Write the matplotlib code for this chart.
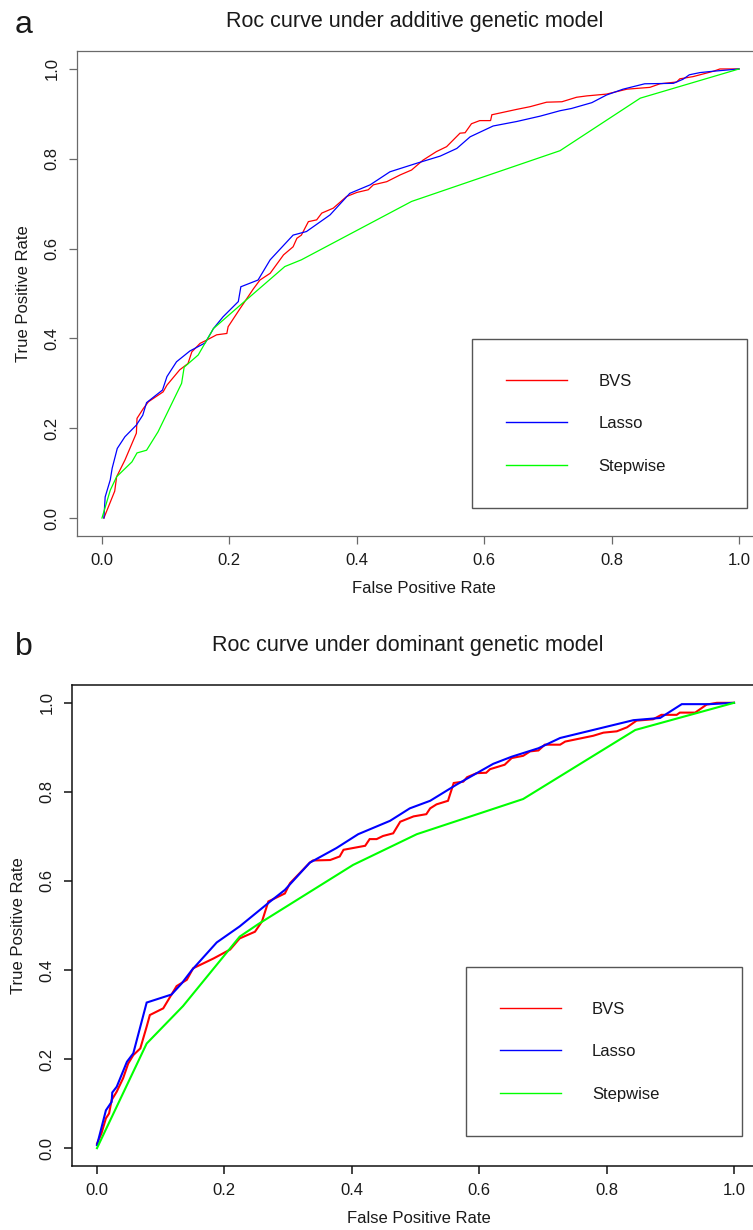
import matplotlib
matplotlib.use("Agg")
import matplotlib.pyplot as plt

plt.rcParams['font.family'] = ['Liberation Sans', 'DejaVu Sans']

W, H = 753, 1230

# ---- panel a: additive model ----
a_bvs_fpr = [0.003, 0.020, 0.023, 0.036, 0.054, 0.055, 0.065, 0.073, 0.096, 0.102,
             0.122, 0.135, 0.141, 0.154, 0.164, 0.180, 0.196, 0.198, 0.217, 0.238,
             0.248, 0.264, 0.285, 0.300, 0.306, 0.313, 0.324, 0.337, 0.345, 0.363,
             0.384, 0.400, 0.418, 0.426, 0.447, 0.468, 0.486, 0.504, 0.525, 0.541,
             0.562, 0.570, 0.580, 0.593, 0.610, 0.612, 0.651, 0.672, 0.698, 0.722,
             0.745, 0.761, 0.792, 0.824, 0.860, 0.876, 0.902, 0.907, 0.928, 0.960,
             0.970, 1.000]
a_bvs_tpr = [0.000, 0.060, 0.092, 0.129, 0.189, 0.222, 0.244, 0.259, 0.281, 0.296,
             0.330, 0.344, 0.370, 0.389, 0.396, 0.408, 0.411, 0.426, 0.467, 0.511,
             0.530, 0.545, 0.586, 0.604, 0.623, 0.630, 0.660, 0.664, 0.679, 0.690,
             0.716, 0.725, 0.731, 0.742, 0.749, 0.764, 0.775, 0.797, 0.816, 0.827,
             0.857, 0.858, 0.878, 0.885, 0.885, 0.898, 0.910, 0.916, 0.926, 0.927,
             0.937, 0.940, 0.944, 0.955, 0.959, 0.967, 0.971, 0.978, 0.983, 0.995,
             1.000, 1.000]

a_lasso_fpr = [0.003, 0.005, 0.013, 0.016, 0.024, 0.036, 0.054, 0.064, 0.070, 0.095,
               0.102, 0.117, 0.138, 0.162, 0.175, 0.190, 0.214, 0.218, 0.245, 0.264,
               0.300, 0.321, 0.358, 0.389, 0.421, 0.452, 0.494, 0.531, 0.557, 0.578,
               0.614, 0.651, 0.688, 0.719, 0.737, 0.769, 0.792, 0.818, 0.852, 0.897,
               0.912, 0.922, 0.939, 0.960, 1.000]
a_lasso_tpr = [0.000, 0.047, 0.085, 0.111, 0.155, 0.181, 0.207, 0.229, 0.257, 0.285,
               0.315, 0.348, 0.372, 0.390, 0.422, 0.448, 0.482, 0.515, 0.530, 0.575,
               0.630, 0.638, 0.675, 0.723, 0.742, 0.771, 0.790, 0.806, 0.823, 0.849,
               0.873, 0.883, 0.895, 0.907, 0.912, 0.925, 0.942, 0.955, 0.967, 0.968,
               0.977, 0.987, 0.992, 0.995, 1.000]

a_step_fpr = [0.000, 0.013, 0.023, 0.047, 0.055, 0.070, 0.088, 0.125, 0.129, 0.151,
              0.175, 0.217, 0.287, 0.313, 0.486, 0.719, 0.845, 1.000]
a_step_tpr = [0.000, 0.062, 0.092, 0.125, 0.145, 0.151, 0.192, 0.300, 0.336, 0.363,
              0.422, 0.474, 0.560, 0.575, 0.705, 0.818, 0.935, 1.000]

# ---- panel b: dominant model ----
b_bvs_fpr = [0.000, 0.007, 0.014, 0.019, 0.023, 0.031, 0.041, 0.049, 0.057, 0.068,
             0.078, 0.083, 0.104, 0.125, 0.141, 0.151, 0.183, 0.209, 0.224, 0.248,
             0.259, 0.269, 0.285, 0.295, 0.303, 0.334, 0.339, 0.366, 0.381, 0.387,
             0.421, 0.428, 0.439, 0.449, 0.465, 0.476, 0.497, 0.517, 0.523, 0.533,
             0.551, 0.560, 0.575, 0.581, 0.596, 0.611, 0.617, 0.640, 0.651, 0.669,
             0.680, 0.693, 0.703, 0.727, 0.735, 0.779, 0.795, 0.816, 0.832, 0.847,
             0.873, 0.886, 0.910, 0.915, 0.939, 0.957, 0.973, 1.000]
b_bvs_tpr = [0.010, 0.033, 0.067, 0.078, 0.108, 0.127, 0.157, 0.190, 0.209, 0.224,
             0.273, 0.299, 0.314, 0.364, 0.378, 0.404, 0.426, 0.446, 0.471, 0.486,
             0.509, 0.554, 0.565, 0.572, 0.595, 0.641, 0.646, 0.647, 0.655, 0.670,
             0.679, 0.694, 0.694, 0.701, 0.707, 0.733, 0.745, 0.750, 0.763, 0.772,
             0.780, 0.820, 0.823, 0.833, 0.842, 0.843, 0.851, 0.861, 0.876, 0.881,
             0.891, 0.893, 0.906, 0.906, 0.913, 0.926, 0.933, 0.936, 0.945, 0.960,
             0.963, 0.973, 0.973, 0.978, 0.978, 0.996, 1.000, 1.000]

b_lasso_fpr = [0.000, 0.004, 0.014, 0.023, 0.024, 0.031, 0.047, 0.057, 0.078, 0.117,
               0.133, 0.149, 0.188, 0.224, 0.272, 0.295, 0.334, 0.376, 0.410, 0.460,
               0.491, 0.523, 0.564, 0.601, 0.622, 0.651, 0.693, 0.727, 0.842, 0.884,
               0.918, 0.962, 1.000]
b_lasso_tpr = [0.007, 0.029, 0.085, 0.104, 0.125, 0.138, 0.194, 0.213, 0.327, 0.345,
               0.370, 0.400, 0.462, 0.498, 0.554, 0.580, 0.641, 0.674, 0.705, 0.735,
               0.763, 0.780, 0.816, 0.846, 0.863, 0.879, 0.898, 0.921, 0.961, 0.966,
               0.997, 0.997, 1.000]

b_step_fpr = [0.000, 0.078, 0.135, 0.224, 0.253, 0.402, 0.502, 0.669, 0.845, 1.000]
b_step_tpr = [0.000, 0.235, 0.319, 0.475, 0.503, 0.636, 0.705, 0.784, 0.939, 1.000]

methods = ['BVS', 'Lasso', 'Stepwise']
colors = ['#ff0000', '#0000ff', '#00ff00']
ticks = [0.0, 0.2, 0.4, 0.6, 0.8, 1.0]
tick_labels = ['0.0', '0.2', '0.4', '0.6', '0.8', '1.0']

fig = plt.figure(figsize=(W / 100, H / 100), dpi=100)


def px_box(left, top, right, bottom):
    return [left / W, 1 - bottom / H, (right - left) / W, (bottom - top) / H]


def draw_panel(ax, curves, lw, spine_col, spine_lw, leg_box):
    for (fpr, tpr), col, name in zip(curves, colors, methods):
        ax.plot(fpr, tpr, color=col, lw=lw, label=name, solid_joinstyle='miter')
    ax.set_xlim(-0.04, 1.04)
    ax.set_ylim(-0.04, 1.04)
    ax.set_xticks(ticks, tick_labels)
    ax.set_yticks(ticks, tick_labels)
    ax.tick_params(axis='both', labelsize=12, length=5.5, width=spine_lw,
                   color=spine_col, labelcolor='#1a1a1a', pad=6.5)
    ax.tick_params(axis='y', labelrotation=90)
    for lbl in ax.get_yticklabels():
        lbl.set_va('center')
    for side in ['left', 'top', 'bottom', 'right']:
        ax.spines[side].set_color(spine_col)
        ax.spines[side].set_linewidth(spine_lw)
    ax.set_xlabel('False Positive Rate', fontsize=12, color='#1a1a1a')
    ax.set_ylabel('True Positive Rate', fontsize=12, color='#1a1a1a')
    ax.xaxis.set_label_coords(0.505, -0.093)
    ax.yaxis.set_label_coords(-0.066, 0.5)
    leg = ax.legend(loc='lower left', bbox_to_anchor=leg_box, bbox_transform=ax.transData,
                    mode='expand', borderaxespad=0, fancybox=False, framealpha=1,
                    edgecolor='#555555', fontsize=12, borderpad=2.05, labelspacing=1.66,
                    handlelength=3.66, handletextpad=1.86)
    leg.get_frame().set_linewidth(1.0)
    for h in leg.get_lines():
        h.set_linewidth(1.0)
    for t in leg.get_texts():
        t.set_color('#1a1a1a')


ax_a = fig.add_axes(px_box(76.5, 51, 764.5, 536))
draw_panel(ax_a,
           [(a_bvs_fpr, a_bvs_tpr), (a_lasso_fpr, a_lasso_tpr), (a_step_fpr, a_step_tpr)],
           lw=0.9, spine_col='#6a6a6a', spine_lw=0.9,
           leg_box=(0.581, 0.022, 0.432, 0.38))

ax_b = fig.add_axes(px_box(71.5, 685, 759.5, 1166))
draw_panel(ax_b,
           [(b_bvs_fpr, b_bvs_tpr), (b_lasso_fpr, b_lasso_tpr), (b_step_fpr, b_step_tpr)],
           lw=1.5, spine_col='#111111', spine_lw=1.1,
           leg_box=(0.579, 0.027, 0.433, 0.38))

# panel letters and titles
fig.text(15 / W, 1 - 33 / H, 'a', fontsize=23, va='baseline', ha='left', color='#1a1a1a')
fig.text(15 / W, 1 - 655 / H, 'b', fontsize=23, va='baseline', ha='left', color='#1a1a1a')
fig.text(414.5 / W, 1 - 27 / H, 'Roc curve under additive genetic model',
         fontsize=15.5, va='baseline', ha='center', color='#1a1a1a')
fig.text(408 / W, 1 - 651 / H, 'Roc curve under dominant genetic model',
         fontsize=15.5, va='baseline', ha='center', color='#1a1a1a')

fig.savefig('out.png', dpi=100)
